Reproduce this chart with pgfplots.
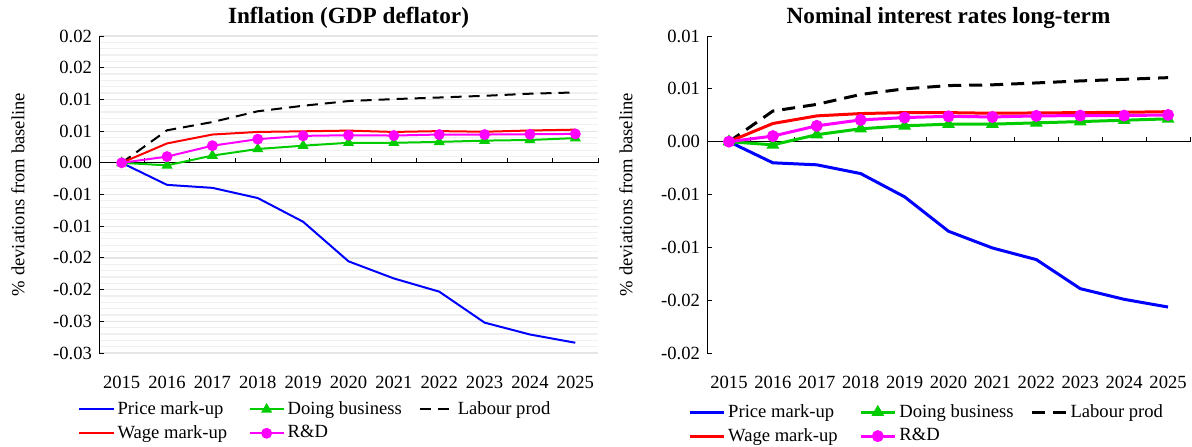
\documentclass[border=0pt]{standalone}
\usepackage{fontspec}
\setmainfont{Liberation Serif}
\usepackage{pgfplots}
\usepackage{pgfplotstable}
\pgfplotsset{compat=1.18}

\definecolor{cblue}{RGB}{0,0,255}
\definecolor{cred}{RGB}{255,0,0}
\definecolor{cgreen}{RGB}{0,204,0}
\definecolor{cmag}{RGB}{255,0,255}

% x: 0 = 2015 ... 10 = 2025
\pgfplotstableread{
x Price Doing Labour Wage RD
0 0 0 0 0 0
1 -0.00348 -0.0004 0.00513 0.00306 0.00098
2 -0.00395 0.00114 0.00643 0.00446 0.0027
3 -0.00556 0.00218 0.00813 0.00487 0.00373
4 -0.0093 0.0027 0.0090 0.00497 0.00425
5 -0.01554 0.00316 0.00974 0.00508 0.00435
6 -0.01824 0.00316 0.01005 0.00487 0.0043
7 -0.02032 0.0033 0.0103 0.005 0.00446
8 -0.02521 0.0035 0.01057 0.0049 0.00446
9 -0.02708 0.0036 0.0109 0.0051 0.0045
10 -0.02838 0.0039 0.0111 0.00523 0.00456
}\inflation

\pgfplotstableread{
x Price Doing Labour Wage RD
0 0 0 0 0 0
1 -0.002 -0.0003 0.0029 0.00172 0.00053
2 -0.00219 0.00066 0.00353 0.00244 0.0015
3 -0.00302 0.00122 0.00447 0.00266 0.00206
4 -0.00522 0.0015 0.005 0.00275 0.00228
5 -0.00848 0.00166 0.00531 0.00275 0.0024
6 -0.01006 0.00166 0.00538 0.00269 0.00234
7 -0.01116 0.00178 0.00556 0.00272 0.00244
8 -0.01391 0.0019 0.00575 0.00275 0.00247
9 -0.01492 0.00203 0.0059 0.00278 0.00247
10 -0.01565 0.00216 0.00606 0.00284 0.00253
}\longrate

\pgfplotsset{
  panel/.style={
    scale only axis,
    anchor=south west,
    height=158.5pt,
    font=\fontsize{9.3}{11}\selectfont,
    xmin=-0.5, xmax=10.5,
    xtick={0,...,10},
    xticklabels={2015,2016,2017,2018,2019,2020,2021,2022,2023,2024,2025},
    axis x line*=bottom, axis y line*=left,
    x axis line style={draw=none},
    xtick style={draw=none},
    xticklabel style={yshift=-8pt},
    scaled y ticks=false,
    ytick align=inside,
    major tick length=2.5pt,
    ytick style={black, line width=0.5pt},
    y axis line style={black, line width=0.5pt, -},
    every axis title shift=0pt,
    title style={font=\fontsize{11.6}{13}\selectfont\bfseries,
      at={(axis description cs:0.5,1)}, anchor=center, yshift=9pt},
    ylabel={\% deviations from baseline},
    ylabel style={at={(axis description cs:0,0.5)}, anchor=center, yshift=40.5pt},
    legend columns=3,
    legend cell align=left,
    legend style={draw=none, fill=none, anchor=north west,
      font=\fontsize{9.3}{11}\selectfont,
      inner sep=0pt, row sep=1pt, nodes={inner sep=1.5pt}},
    clip=false,
  },
}

\begin{document}
\begin{tikzpicture}
\useasboundingbox (0,0) rectangle (596pt,223pt);

% ---------- left: inflation ----------
\begin{axis}[panel,
  at={(49.5pt,46.5pt)}, width=249.5pt,
  title={Inflation (GDP deflator)},
  ymin=-0.03, ymax=0.02,
  ytick={-0.03,-0.025,-0.02,-0.015,-0.01,-0.005,0,0.005,0.01,0.015,0.02},
  yticklabels={-0.03,-0.03,-0.02,-0.02,-0.01,-0.01,0.00,0.01,0.01,0.02,0.02},
  minor y tick num=4, minor tick length=0pt,
  ymajorgrids, yminorgrids,
  major grid style={draw=black!10, line width=0.6pt},
  minor grid style={draw=black!6, line width=0.6pt},
  legend style={at={(-0.042,-0.142)}},
]
\draw[black, line width=0.5pt] (axis cs:-0.5,0) -- (axis cs:10.5,0);
\pgfplotsinvokeforeach{0.5,1.5,2.5,3.5,4.5,5.5,6.5,7.5,8.5,9.5,10.5}{
  \draw[black, line width=0.5pt] (axis cs:#1,0) -- ++(0pt,2.5pt);
}
\addplot[cblue, line width=1pt, no marks] table[x=x, y=Price] {\inflation};
\addlegendentry{\makebox[64pt][l]{Price mark-up}}
\addplot[cgreen, line width=1pt, mark=triangle*, mark size=2.2pt] table[x=x, y=Doing] {\inflation};
\addlegendentry{\makebox[64pt][l]{Doing business}}
\addplot[black, line width=1pt, dash pattern=on 5.5pt off 3.5pt, no marks] table[x=x, y=Labour] {\inflation};
\addlegendentry{\makebox[64pt][l]{Labour prod}}
\addplot[cred, line width=1pt, no marks] table[x=x, y=Wage] {\inflation};
\addlegendentry{\makebox[64pt][l]{Wage mark-up}}
\addplot[cmag, line width=1pt, mark=*, mark size=2.2pt] table[x=x, y=RD] {\inflation};
\addlegendentry{\makebox[64pt][l]{R\&D}}
\end{axis}

% ---------- right: long-term rate ----------
\begin{axis}[panel,
  at={(353.5pt,46.5pt)}, width=241.5pt,
  title={Nominal interest rates long-term},
  ymin=-0.02, ymax=0.01,
  ytick={-0.02,-0.015,-0.01,-0.005,0,0.005,0.01},
  yticklabels={-0.02,-0.02,-0.01,-0.01,0.00,0.01,0.01},
  legend style={at={(-0.04,-0.151)}},
]
\draw[black, line width=0.5pt] (axis cs:-0.5,0) -- (axis cs:10.5,0);
\pgfplotsinvokeforeach{0.5,1.5,2.5,3.5,4.5,5.5,6.5,7.5,8.5,9.5,10.5}{
  \draw[black, line width=0.5pt] (axis cs:#1,0) -- ++(0pt,2.5pt);
}
\addplot[cblue, line width=1.5pt, no marks] table[x=x, y=Price] {\longrate};
\addlegendentry{\makebox[64pt][l]{Price mark-up}}
\addplot[cgreen, line width=1.5pt, mark=triangle*, mark size=2.2pt] table[x=x, y=Doing] {\longrate};
\addlegendentry{\makebox[64pt][l]{Doing business}}
\addplot[black, line width=1.5pt, dash pattern=on 6.5pt off 4pt, no marks] table[x=x, y=Labour] {\longrate};
\addlegendentry{\makebox[64pt][l]{Labour prod}}
\addplot[cred, line width=1.5pt, no marks] table[x=x, y=Wage] {\longrate};
\addlegendentry{\makebox[64pt][l]{Wage mark-up}}
\addplot[cmag, line width=1.5pt, mark=*, mark size=2.2pt] table[x=x, y=RD] {\longrate};
\addlegendentry{\makebox[64pt][l]{R\&D}}
\end{axis}
\end{tikzpicture}
\end{document}
